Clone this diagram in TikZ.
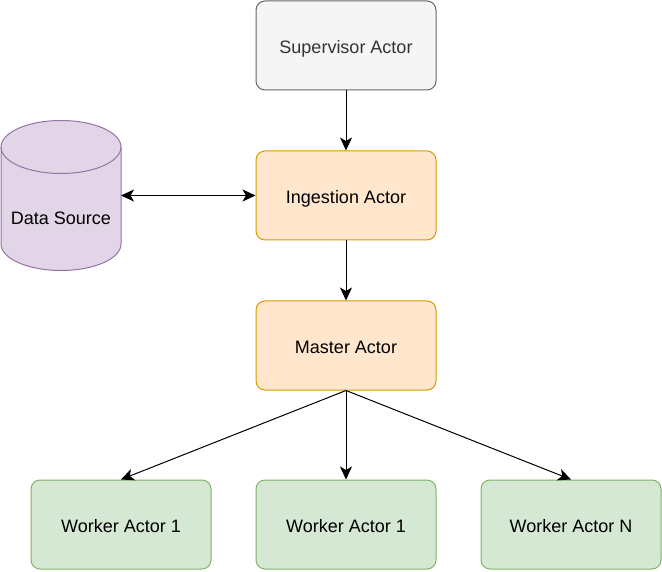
\documentclass[tikz,border=0pt]{standalone}
\usepackage{fontspec}
\setmainfont{Liberation Sans}
\usetikzlibrary{arrows.meta,positioning,calc}
\definecolor{supfill}{HTML}{F5F5F5}
\definecolor{supline}{HTML}{666666}
\definecolor{suptext}{HTML}{333333}
\definecolor{actfill}{HTML}{FFE6CC}
\definecolor{actline}{HTML}{D79B00}
\definecolor{wrkfill}{HTML}{D5E8D4}
\definecolor{wrkline}{HTML}{82B366}
\definecolor{dsfill}{HTML}{E1D5E7}
\definecolor{dsline}{HTML}{9673A6}

\begin{document}
\begin{tikzpicture}[x=1pt,y=-1pt,>={Stealth[length=13pt,width=12pt,inset=3.5pt]},node distance=60pt,
	main node/.style={draw, rounded corners=9pt, line width=1pt, minimum width=180pt, minimum height=89pt, text height=16pt, text depth=0pt, font=\fontsize{18}{22}\selectfont},
	sup node/.style={main node, fill=supfill, draw=supline, text=suptext},
	act node/.style={main node, fill=actfill, draw=actline},
	wrk node/.style={main node, fill=wrkfill, draw=wrkline},
	store/.style={minimum width=120pt, minimum height=150pt, inner sep=0pt, outer sep=0pt}]
	\useasboundingbox (0,0) rectangle (662,572);
	
	\node[sup node] (sup) at (346,45.5) {Supervisor Actor};
	\node[act node] (ing) [below=of sup] {Ingestion Actor};
	\node[act node] (mas) [below=of ing] {Master Actor};
	
	\node[wrk node] (w2) [below=89pt of mas] {Worker Actor 1};
	\node[wrk node] (w1) [left=44pt of w2] {Worker Actor 1};
	\node[wrk node] (w3) [right=44pt of w2] {Worker Actor N};
	
	% data source cylinder
	\node[store] (ds) at (61,195.5) {};
	\path[fill=dsfill, draw=dsline, line width=1pt]
	($(ds.north west)+(0,26.5)$) -- ($(ds.south west)+(0,-26.5)$)
	arc[start angle=180, end angle=0, x radius=60, y radius=26.5]
	-- ($(ds.north east)+(0,26.5)$)
	arc[start angle=0, end angle=-180, x radius=60, y radius=26.5] -- cycle;
	\draw[dsline, line width=1pt] ($(ds.north west)+(0,26.5)$)
	arc[start angle=180, end angle=0, x radius=60, y radius=26.5];
	\node[font=\fontsize{18}{22}\selectfont] (dstext) at ($(ds.center)+(0,23)$) {Data Source};
	
	\path[line width=1pt]
	(sup) edge [->] (ing)
	(ds.east) edge [<->] (ing.west)
	(ing) edge [->] (mas)
	
	(mas.south) edge [->] (w1.north)
	(mas.south) edge [->] (w2.north)
	(mas.south) edge [->] (w3.north);
	
\end{tikzpicture}
\end{document}
